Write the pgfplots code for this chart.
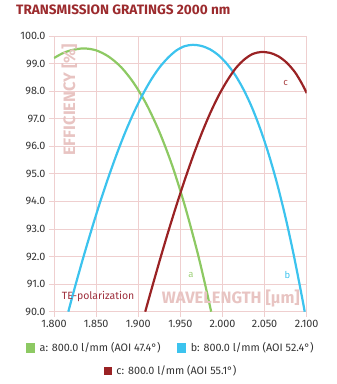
\documentclass[border=0pt]{standalone}
\usepackage{fontspec}
\setmainfont{Fira Sans}
\usepackage{pgfplots}
\pgfplotsset{compat=1.18}
\definecolor{agreen}{HTML}{8DC963}
\definecolor{bblue}{HTML}{3CC3EE}
\definecolor{cred}{HTML}{9A2224}
\definecolor{titlered}{HTML}{9C2B2E}
\definecolor{gridpink}{HTML}{EFCFCF}
\definecolor{labelpink}{HTML}{E8C4C2}
\definecolor{tickgray}{HTML}{333333}
\definecolor{tered}{HTML}{9E2F3C}
\pgfplotsset{
  sqlegend/.style={
    legend image code/.code={\fill[##1] (0pt,-3.6pt) rectangle (7pt,3.6pt);},
  },
}
\begin{document}
\begin{tikzpicture}
\useasboundingbox (0,0) rectangle (337pt,384pt);
\begin{axis}[
  at={(54pt,72.3pt)}, anchor=south west,
  width=252.7pt, height=275.7pt, scale only axis,
  xmin=1.8, xmax=2.1, ymin=90, ymax=100,
  xtick={1.8,1.85,1.9,1.95,2.0,2.05,2.1},
  ytick={90,91,92,93,94,95,96,97,98,99,100},
  xtick pos=bottom, ytick pos=left,
  tick align=outside, major tick length=5pt,
  grid=major,
  grid style={gridpink, line width=0.8pt},
  axis line style={gridpink, line width=0.8pt},
  tick style={gridpink, line width=0.8pt},
  /pgf/number format/assume math mode=true,
  x tick label style={/pgf/number format/.cd, fixed, fixed zerofill, precision=3, /tikz/.cd, font=\fontsize{10.8}{12}\selectfont, text=tickgray},
  y tick label style={/pgf/number format/.cd, fixed, fixed zerofill, precision=1, /tikz/.cd, font=\fontsize{10.8}{12}\selectfont, text=tickgray},
  title={TRANSMISSION GRATINGS 2000 nm},
  title style={at={(axis description cs:-0.1504,1.0751)}, anchor=west, yshift=0pt, inner sep=0pt, font=\fontsize{13.6}{16}\selectfont\bfseries, text=titlered},
  xlabel={WAVELENGTH [µm]},
  xlabel style={at={(axis description cs:0.9735,0.0486)}, anchor=east, inner sep=0pt, font=\fontsize{16.5}{18}\selectfont\bfseries, text=labelpink},
  ylabel={EFFICIENCY [\%]},
  ylabel style={at={(axis description cs:0.0605,0.770)}, anchor=center, inner sep=0pt, font=\fontsize{16.5}{18}\selectfont\bfseries, text=labelpink},
  sqlegend,
  legend columns=2,
  legend style={at={(-0.112,-0.1317)}, anchor=west, draw=none, fill=none, inner sep=0pt,
    nodes={inner sep=0pt, font=\fontsize{10.8}{12}\selectfont, text=tickgray},
    /tikz/every odd column/.append style={column sep=4.6pt},
    /tikz/every even column/.append style={column sep=16.4pt}},
]
\addplot[color=agreen, line width=2.2pt, smooth] coordinates {
(1.800,99.20) (1.810,99.37) (1.820,99.48) (1.835,99.55) (1.850,99.48)
(1.865,99.25) (1.880,98.86) (1.895,98.28) (1.910,97.51) (1.925,96.53)
(1.940,95.33) (1.955,93.88) (1.970,92.19) (1.980,90.91) (1.9866,90.0)};
\addlegendentry{a: 800.0 l/mm (AOI 47.4°)}
\addplot[color=bblue, line width=2.2pt, smooth] coordinates {
(1.817,90.00) (1.825,90.91) (1.835,91.99) (1.845,93.02) (1.855,94.00)
(1.865,94.91) (1.875,95.76) (1.885,96.54) (1.895,97.24) (1.905,97.86)
(1.915,98.40) (1.925,98.85) (1.935,99.20) (1.945,99.47) (1.955,99.63)
(1.965,99.68) (1.975,99.64) (1.985,99.52) (1.995,99.31) (2.005,99.00)
(2.015,98.59) (2.025,98.06) (2.035,97.41) (2.045,96.62) (2.055,95.70)
(2.065,94.63) (2.075,93.40) (2.085,92.00) (2.095,90.44) (2.0976,90.0)};
\addlegendentry{b: 800.0 l/mm (AOI 52.4°)}
\addplot[color=cred, line width=2.2pt, smooth, forget plot] coordinates {
(1.9083,90.00) (1.916,90.84) (1.926,91.91) (1.936,92.94) (1.946,93.92)
(1.956,94.85) (1.966,95.72) (1.976,96.52) (1.986,97.24) (1.996,97.87)
(2.006,98.40) (2.016,98.84) (2.026,99.15) (2.036,99.35) (2.046,99.42)
(2.056,99.39) (2.066,99.27) (2.076,99.04) (2.086,98.69) (2.094,98.29)
(2.100,97.93)};
\node[text=agreen!85!white, font=\fontsize{9.5}{11}\selectfont] at (axis cs:1.9627,91.34) {a};
\node[text=bblue, font=\fontsize{9.5}{11}\selectfont] at (axis cs:2.077,91.34) {b};
\node[text=cred!85!white, font=\fontsize{9.5}{11}\selectfont] at (axis cs:2.075,98.29) {c};
\node[text=tered, font=\fontsize{10.5}{12}\selectfont] at (axis cs:1.8524,90.55) {TE-polarization};
\end{axis}
\begin{axis}[
  at={(54pt,72.3pt)}, anchor=south west,
  width=252.7pt, height=275.7pt, scale only axis,
  xmin=1.8, xmax=2.1, ymin=90, ymax=100,
  hide axis,
  sqlegend,
  legend style={at={(0.199,-0.2133)}, anchor=west, draw=none, fill=none, inner sep=0pt,
    nodes={inner sep=0pt, font=\fontsize{10.8}{12}\selectfont, text=tickgray},
    /tikz/every odd column/.append style={column sep=4.6pt}},
]
\addlegendimage{color=cred}
\addlegendentry{c: 800.0 l/mm (AOI 55.1°)}
\end{axis}
\end{tikzpicture}
\end{document}
